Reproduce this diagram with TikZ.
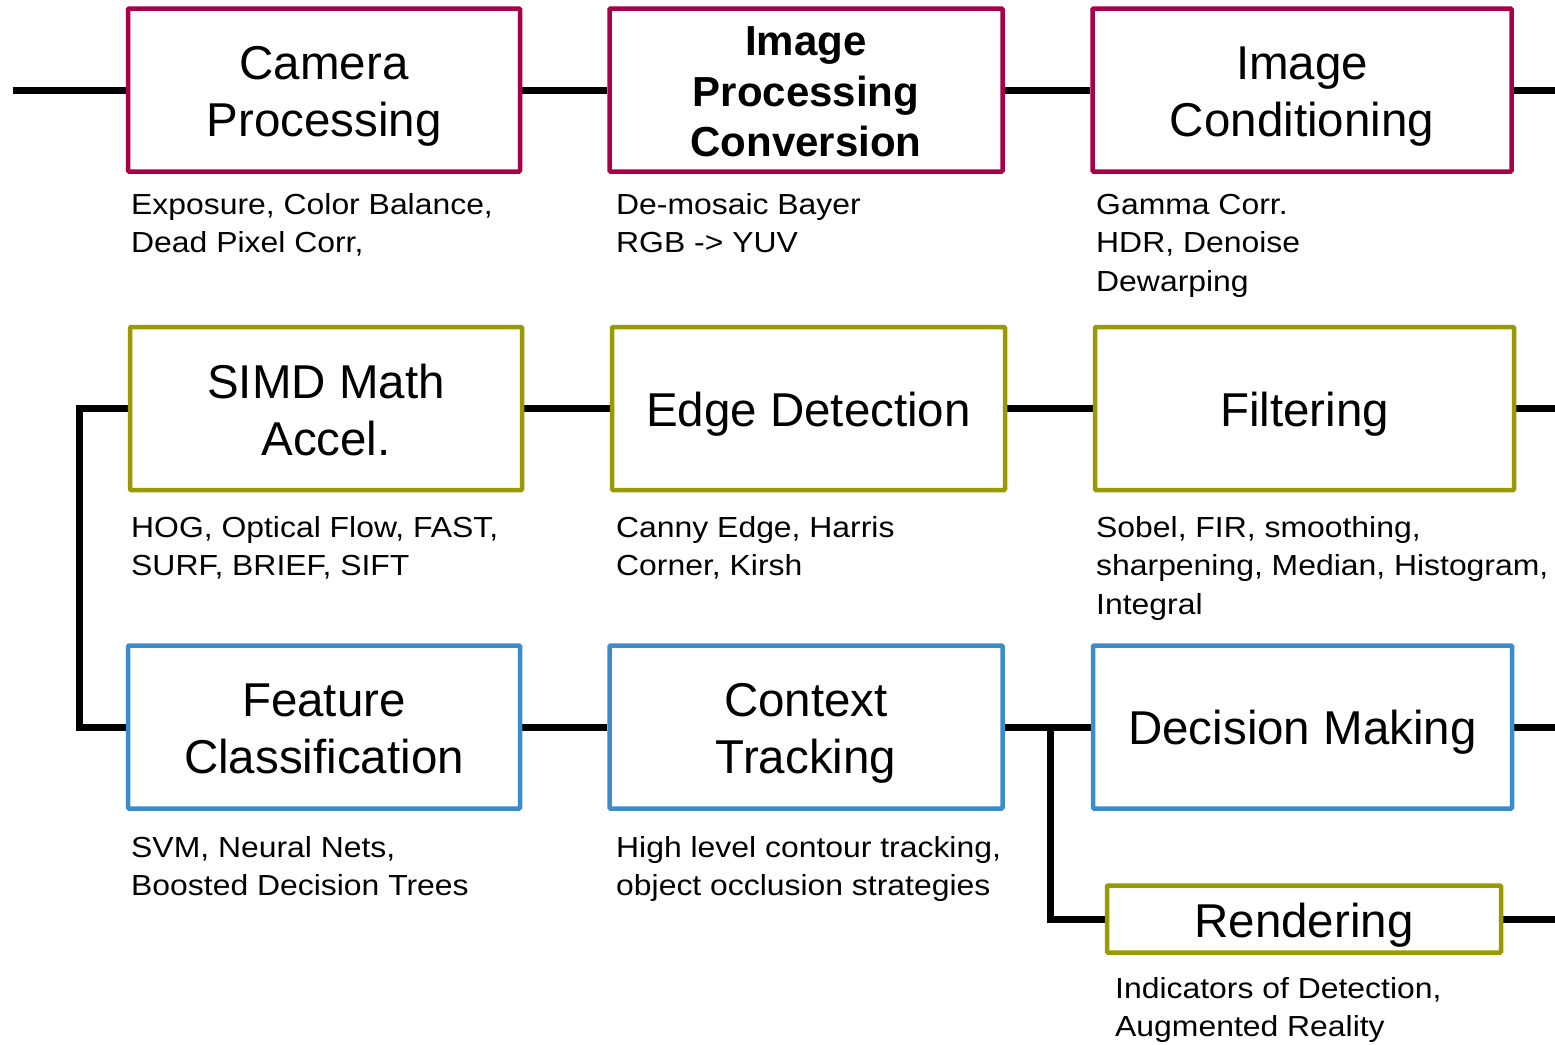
\documentclass[tikz,border=0pt]{standalone}
\usepackage{fontspec}
\setmainfont{Liberation Sans}
\newfontfamily\notefont[FakeStretch=1.1]{Liberation Sans}
\usetikzlibrary{backgrounds}

\definecolor{stageRed}{RGB}{168,0,72}
\definecolor{stageOlive}{RGB}{153,153,0}
\definecolor{stageBlue}{RGB}{60,140,204}

% struts that centre each line box on the capital letters
\newcommand\titlestrut{\rule[-11.3pt]{0pt}{57pt}}
\newcommand\boldstrut{\rule[-10.2pt]{0pt}{50.5pt}}
\newcommand\notestrut{\rule[-10.5pt]{0pt}{38.5pt}}

\tikzset{
  stagebox/.style={draw=#1, line width=4.5pt, fill=white, inner sep=0pt,
                   minimum height=163pt, rounded corners=1pt},
  wire/.style={line width=7pt, line cap=butt, line join=miter, black},
  title/.style={font=\fontsize{47.5}{57}\selectfont, align=center, inner sep=0pt},
  boldtitle/.style={font=\bfseries\fontsize{42}{50.5}\selectfont, align=center, inner sep=0pt},
  note/.style={font=\notefont\fontsize{29}{38.5}\selectfont, align=left,
               inner sep=0pt, anchor=north west},
}

\begin{document}
\begin{tikzpicture}[x=1pt, y=-1pt]
\useasboundingbox (0,0) rectangle (1555,1044);

% ---- stage boxes ----
\node[stagebox=stageRed, minimum width=392pt] (cam)  at (324,90) {};
\node[stagebox=stageRed, minimum width=393pt] (ipc)  at (806,90) {};
\node[stagebox=stageRed, minimum width=419pt] (cond) at (1302,90) {};

\node[stagebox=stageOlive, minimum width=392pt] (simd) at (326,408.5) {};
\node[stagebox=stageOlive, minimum width=393pt] (edge) at (808.5,408.5) {};
\node[stagebox=stageOlive, minimum width=419pt] (filt) at (1304.5,408.5) {};

\node[stagebox=stageBlue, minimum width=392pt] (feat) at (324,727) {};
\node[stagebox=stageBlue, minimum width=393pt] (ctx)  at (806,727) {};
\node[stagebox=stageBlue, minimum width=419pt] (dec)  at (1302.5,727) {};

\node[stagebox=stageOlive, minimum width=394pt, minimum height=67pt] (rend) at (1304,919) {};

% ---- stage titles ----
\node[title] (tcam)  at ([yshift=-1pt]cam.center)  {\titlestrut Camera\\\titlestrut Processing};
\node[boldtitle] (tipc) at ([yshift=-1pt]ipc.center) {\boldstrut Image\\\boldstrut Processing\\\boldstrut Conversion};
\node[title] (tcond) at ([yshift=-1pt]cond.center) {\titlestrut Image\\\titlestrut Conditioning};
\node[title] (tsimd) at ([yshift=-1pt]simd.center) {\titlestrut SIMD Math\\\titlestrut Accel.};
\node[title] (tedge) at ([yshift=-0.5pt]edge.center) {\titlestrut Edge Detection};
\node[title] (tfilt) at ([yshift=-0.5pt]filt.center) {\titlestrut Filtering};
\node[title] (tfeat) at ([yshift=-1pt]feat.center) {\titlestrut Feature\\\titlestrut Classification};
\node[title] (tctx)  at ([yshift=-1pt]ctx.center)  {\titlestrut Context\\\titlestrut Tracking};
\node[title] (tdec)  at ([yshift=-0.5pt]dec.center) {\titlestrut Decision Making};
\node[title] (trend) at ([yshift=-1pt]rend.center) {\titlestrut Rendering};

% ---- notes under the stages ----
\node[note] (ncam)  at (131,186) {\notestrut Exposure, Color Balance,\\\notestrut Dead Pixel Corr,};
\node[note] (nipc)  at (616,186) {\notestrut De-mosaic Bayer\\\notestrut RGB -> YUV};
\node[note] (ncond) at (1096,186) {\notestrut Gamma Corr.\\\notestrut HDR, Denoise\\\notestrut Dewarping};
\node[note] (nsimd) at (131,509) {\notestrut HOG, Optical Flow, FAST,\\\notestrut SURF, BRIEF, SIFT};
\node[note] (nedge) at (616,509) {\notestrut Canny Edge, Harris\\\notestrut Corner, Kirsh};
\node[note] (nfilt) at (1096,509) {\notestrut Sobel, FIR, smoothing,\\\notestrut sharpening, Median, Histogram,\\\notestrut Integral};
\node[note] (nfeat) at (131,829) {\notestrut SVM, Neural Nets,\\\notestrut Boosted Decision Trees};
\node[note] (nctx)  at (616,829) {\notestrut High level contour tracking,\\\notestrut object occlusion strategies};
\node[note] (nrend) at (1115,970) {\notestrut Indicators of Detection,\\\notestrut Augmented Reality};

% ---- free ends and bends of the wiring ----
\coordinate (inA)  at (13,90);
\coordinate (outA) at (1555,90);
\coordinate (outB) at (1555,408.5);
\coordinate (outC) at (1555,727);
\coordinate (outD) at (1555,919);
\coordinate (bus)  at (79,408.5);
\coordinate (tap)  at (1050,727);

% ---- white page and wiring, kept behind the boxes ----
\begin{scope}[on background layer]
  \fill[white] (0,0) rectangle (1555,1044);

  \draw[wire] (inA) -- (cam.west);
  \draw[wire] (cam.east) -- (ipc.west);
  \draw[wire] (ipc.east) -- (cond.west);
  \draw[wire] (cond.east) -- (outA);

  \draw[wire] (simd.east) -- (edge.west);
  \draw[wire] (edge.east) -- (filt.west);
  \draw[wire] (filt.east) -- (outB);
  \draw[wire] (simd.west) -- (bus) |- (feat.west);

  \draw[wire] (feat.east) -- (ctx.west);
  \draw[wire] (ctx.east) -- (dec.west);
  \draw[wire] (dec.east) -- (outC);
  \draw[wire] (tap) |- (rend.west);
  \draw[wire] (rend.east) -- (outD);
\end{scope}
\end{tikzpicture}
\end{document}
